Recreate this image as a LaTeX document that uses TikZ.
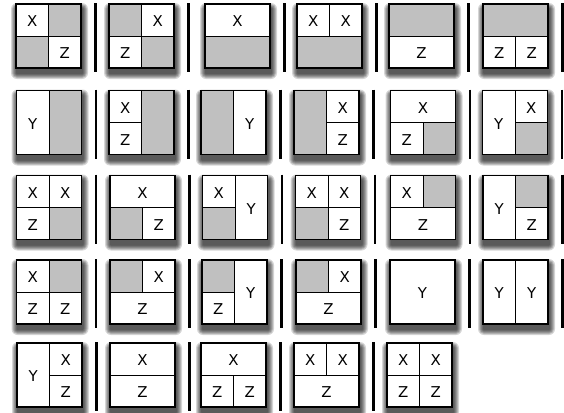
\documentclass[tikz,border=0pt]{standalone}
\usepackage{fontspec}
\setmainfont{DejaVu Sans}
\usepackage{xcolor}

\definecolor{cellgray}{HTML}{C0C0C0}

\begin{document}
\begin{tikzpicture}[x=1bp, y=-1bp,
    haze/.style={fill=black, opacity=0.16},
    panel/.style={fill=cellgray},
    part/.style={draw, fill=white, line width=0.7bp},
    rim/.style={draw, line width=1.1bp},
    bar/.style={line width=2.6bp},
    lbl/.style={font=\fontsize{15}{17}\selectfont, inner sep=0pt, yshift=-1.5bp}]

    \useasboundingbox (0,0) rectangle (564,412);

    % Panels: x / y / separator after it / white parts (in halves of the panel)
    \foreach \px/\py/\sep/\parts in {
        16/4/1/{0/0/1/1/X, 1/1/2/2/Z},
        109/4/1/{1/0/2/1/X, 0/1/1/2/Z},
        205/4/1/{0/0/2/1/X},
        297/4/1/{0/0/1/1/X, 1/0/2/1/X},
        389/4/1/{0/1/2/2/Z},
        483/4/1/{0/1/1/2/Z, 1/1/2/2/Z},
        16.5/90.5/1/{0/0/1/2/Y},
        109/90.5/1/{0/0/1/1/X, 0/1/1/2/Z},
        201/90.5/1/{1/0/2/2/Y},
        294/90.5/1/{1/0/2/1/X, 1/1/2/2/Z},
        390.5/90.5/1/{0/0/2/1/X, 0/1/1/2/Z},
        482.5/90.5/1/{0/0/1/2/Y, 1/0/2/1/X},
        16.5/175.5/1/{0/0/1/1/X, 1/0/2/1/X, 0/1/1/2/Z},
        110/175.5/1/{0/0/2/1/X, 1/1/2/2/Z},
        202.5/175.5/1/{0/0/1/1/X, 1/0/2/2/Y},
        295.5/175.5/1/{0/0/1/1/X, 1/0/2/1/X, 1/1/2/2/Z},
        390.5/175.5/1/{0/0/1/1/X, 0/1/2/2/Z},
        483/175.5/1/{0/0/1/2/Y, 1/1/2/2/Z},
        16.5/260/1/{0/0/1/1/X, 0/1/1/2/Z, 1/1/2/2/Z},
        110/260/1/{1/0/2/1/X, 0/1/2/2/Z},
        202/260/1/{0/1/1/2/Z, 1/0/2/2/Y},
        296/260/1/{1/0/2/1/X, 0/1/2/2/Z},
        390/260/1/{0/0/2/2/Y},
        483/260/1/{0/0/1/2/Y, 1/0/2/2/Y},
        17/343/1/{0/0/1/2/Y, 1/0/2/1/X, 1/1/2/2/Z},
        110/343/1/{0/0/2/1/X, 0/1/2/2/Z},
        201/343/1/{0/0/2/1/X, 0/1/1/2/Z, 1/1/2/2/Z},
        294/343/1/{0/0/1/1/X, 1/0/2/1/X, 0/1/2/2/Z},
        387/343/0/{0/0/1/1/X, 1/0/2/1/X, 0/1/1/2/Z, 1/1/2/2/Z}}{
    \begin{scope}[shift={(\px,\py)}]
        % soft shadow, stacked
        \foreach \d in {1,...,6}
            \fill[haze, rounded corners=\d bp] (1-\d,5-\d) rectangle (66+\d,69+\d);
        \path[panel] (0,0) rectangle (65,64);
        \foreach \ax/\ay/\bx/\by/\t in \parts {
            \draw[part] (32.5*\ax,32*\ay) rectangle (32.5*\bx,32*\by);
            \node[lbl] (cell\ax\ay) at (16.25*\ax+16.25*\bx,16*\ay+16*\by) {\t};
        }
        \draw[rim] (0,0) rectangle (65,64);
        % separator
        \ifnum\sep=1 \draw[bar] (79.5,-1) -- (79.5,68); \fi
    \end{scope}
    }

\end{tikzpicture}
\end{document}
